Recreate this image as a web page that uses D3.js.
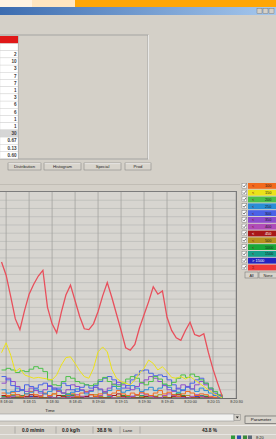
<!DOCTYPE html>
<html>
<head>
<meta charset="utf-8">
<script src="https://d3js.org/d3.v7.min.js"></script>
<style>
body { margin: 0; background: #d4d0c8; overflow: hidden; }
svg { display: block; font-family: "Liberation Sans", Arial, sans-serif; }
</style>
</head>
<body>
<div id="graph"></div>
<script>
let width = 276;
let height = 439;

// Plot frame (the left part of the window is cropped away)
let plot = { left: 0, right: 236, top: 192, bottom: 398 };

// Sample times, seconds after 8:18:00
let seconds = [
	-3, 0, 3, 6, 9, 12, 15,
	18, 21, 24, 27, 30, 33, 36,
	39, 42, 45, 48, 51, 54, 57,
	60, 63, 66, 69, 72, 75, 78,
	81, 84, 87, 90, 93, 96, 99,
	102, 105, 108, 111, 114, 117, 120,
	123, 126, 129, 132, 135, 138, 141
	];

// Counts per size class
let s100 = [
	0.6, 0.3, 0.7, 0.4, 0.2, 0.5, 0.8,
	0.4, 0.2, 0.6, 0.3, 0.5, 0.9, 0.6,
	0.3, 0.5, 0.2, 0.6, 0.8, 0.4, 0.2,
	0.5, 0.7, 0.4, 0.6, 0.9, 0.5, 0.3,
	0.6, 0.4, 0.7, 0.5, 0.3, 0.6, 0.9,
	0.5, 0.7, 0.4, 0.2, 0.5, 0.8, 0.6,
	0.3, 0.5, 0.4, 0.2, 0.1, 0, 0
	];
let s150 = [
	5.5, 6.7, 5.2, 3.2, 3.6, 2.8, 2.6,
	2.4, 2.5, 2.4, 2.3, 2.2, 2.8, 4.0,
	4.9, 5.0, 4.2, 3.3, 2.6, 2.4, 3.6,
	5.6, 6.2, 5.6, 3.5, 2.4, 2.0, 1.8,
	1.6, 2.2, 3.0, 3.6, 4.6, 4.2, 3.4,
	3.8, 3.2, 2.5, 2.4, 2.6, 2.3, 2.6,
	2.2, 1.8, 1.4, 1.0, 0.6, 0.3, 0
	];
let s200 = [
	3.4, 3.6, 3.4, 3.1, 3.3, 3.2, 3.5,
	3.8, 3.6, 3.2, 2.2, 1.6, 1.5, 2.0,
	2.6, 2.4, 2.0, 1.8, 1.6, 1.5, 1.7,
	2.2, 2.5, 2.0, 1.6, 1.4, 1.8, 2.3,
	2.6, 2.4, 1.9, 1.6, 2.0, 2.6, 2.3,
	1.7, 1.5, 1.9, 2.4, 2.8, 2.5, 2.9,
	2.6, 2.2, 1.8, 1.2, 0.8, 0.4, 0
	];
let s250 = [
	1.0, 0.6, 0.8, 1.2, 0.9, 0.5, 0.7,
	1.1, 0.8, 0.5, 0.8, 1.2, 1.0, 0.6,
	0.4, 0.7, 1.1, 0.9, 0.5, 0.8, 1.3,
	1.0, 0.6, 0.9, 1.4, 1.1, 0.7, 0.9,
	1.5, 1.2, 0.8, 1.0, 1.3, 0.9, 1.2,
	1.6, 1.3, 0.9, 0.7, 1.0, 1.4, 1.1,
	0.8, 1.2, 0.9, 0.6, 0.3, 0.1, 0
	];
let s300 = [
	2.6, 2.2, 1.5, 0.8, 1.0, 1.6, 1.4,
	1.2, 1.6, 1.8, 1.4, 1.0, 1.2, 1.8,
	1.5, 1.0, 0.8, 1.3, 1.6, 1.2, 1.5,
	2.0, 2.4, 2.6, 2.2, 1.6, 1.2, 1.5,
	2.2, 2.8, 3.3, 3.4, 3.0, 2.7, 2.8,
	2.6, 2.2, 1.6, 1.1, 0.9, 1.3, 1.8,
	2.2, 2.4, 1.8, 1.2, 0.6, 0.3, 0
	];
let s350 = [
	1.8, 2.4, 2.0, 1.4, 1.0, 0.8, 1.2,
	0.9, 0.6, 1.0, 1.5, 1.2, 0.8, 0.6,
	1.0, 1.6, 1.4, 1.0, 0.7, 0.9, 1.3,
	1.1, 0.8, 1.2, 1.7, 1.9, 1.6, 1.2,
	1.0, 1.4, 1.8, 2.2, 2.6, 2.4, 2.0,
	1.5, 1.0, 0.8, 1.2, 1.6, 1.4, 1.1,
	1.6, 2.0, 1.6, 1.0, 0.5, 0.2, 0
	];
let s400 = [
	0, 0, 0.2, 0.4, 0.2, 0, 0,
	0, 0.3, 0.5, 0.2, 0, 0, 0,
	0, 0.2, 0.4, 0.2, 0, 0, 0,
	0.3, 0.6, 0.3, 0, 0, 0, 0,
	0.2, 0.4, 0.6, 0.4, 0.2, 0, 0,
	0.3, 0.5, 0.3, 0, 0, 0, 0.2,
	0.4, 0.2, 0, 0, 0, 0, 0
	];
let s450 = [
	0.3, 0.1, 0, 0, 0, 0.2, 0.4,
	0.2, 0, 0, 0, 0, 0.3, 0.2,
	0, 0, 0, 0, 0.2, 0.4, 0.2,
	0, 0, 0, 0.3, 0.5, 0.2, 0,
	0, 0, 0, 0.2, 0.3, 0.1, 0,
	0, 0, 0.2, 0.4, 0.2, 0, 0,
	0, 0.2, 0.1, 0, 0, 0, 0
	];
let s500 = [
	0, 0.2, 0.4, 0.2, 0, 0, 0,
	0.2, 0, 0, 0.3, 0.5, 0.3, 0,
	0, 0, 0, 0.2, 0, 0, 0.4,
	0.2, 0, 0, 0, 0.2, 0, 0,
	0, 0.3, 0.2, 0, 0, 0.2, 0.4,
	0.2, 0, 0, 0, 0.2, 0.3, 0.1,
	0, 0, 0, 0, 0, 0, 0
	];
let s1000 = [
	0.2, 0, 0, 0, 0.3, 0.1, 0,
	0, 0, 0, 0.2, 0, 0, 0.3,
	0.5, 0.3, 0, 0, 0, 0, 0,
	0.2, 0, 0, 0, 0, 0.3, 0.2,
	0, 0, 0, 0, 0, 0.2, 0,
	0, 0, 0.4, 0.6, 0.3, 0, 0,
	0, 0, 0.2, 0, 0, 0, 0
	];
let s1500 = [
	0, 0, 0.3, 0, 0, 0, 0,
	0, 0.2, 0, 0, 0, 0, 0,
	0.2, 0.4, 0.2, 0, 0, 0, 0,
	0, 0, 0.2, 0, 0, 0, 0,
	0, 0, 0.3, 0.2, 0, 0, 0,
	0, 0, 0, 0.2, 0, 0, 0,
	0, 0.3, 0.2, 0, 0, 0, 0
	];
let sMax = [
	0, 0, 0, 0, 0, 0, 0.2,
	0, 0, 0, 0, 0, 0, 0,
	0, 0, 0, 0, 0.2, 0, 0,
	0, 0, 0, 0, 0, 0, 0,
	0.2, 0, 0, 0, 0, 0, 0,
	0, 0, 0, 0, 0, 0, 0,
	0.2, 0, 0, 0, 0, 0, 0
	];
let sTotal = [
	16.5, 14.9, 12.3, 9.6, 8.3, 10.6, 12.6,
	13.8, 14.8, 15.5, 11.0, 9.0, 7.9, 10.4,
	12.5, 13.7, 11.8, 9.9, 8.4, 8.3, 9.0,
	10.5, 12.4, 14.0, 12.2, 10.2, 8.2, 6.1,
	5.8, 6.5, 8.5, 10.1, 11.7, 13.5, 12.6,
	13.0, 9.8, 8.2, 7.3, 7.0, 8.2, 9.2,
	7.7, 7.5, 7.8, 5.5, 3.5, 1.8, 0.2
	];

let classNames = ["< 100", "< 150", "< 200", "< 250", "< 300", "< 350", "< 400",
	"< 450", "< 500", "< 1000", "< 1500", "> 1500", "\u03A3"];
let classColours = ["#f26a1e", "#ece21a", "#4cc04a", "#2a8ed6", "#4a62e6", "#8e4ccc", "#b04cb8",
	"#a81818", "#b8921e", "#1aa83a", "#16a08a", "#2424c0", "#ee3a3a"];
let classValues = [s100, s150, s200, s250, s300, s350, s400,
	s450, s500, s1000, s1500, sMax, sTotal];

let tableValues = ["", "2", "10", "3", "7", "7", "1", "3", "6", "6", "1", "1", "30", "0.67", "0.13", "0.60"];
let buttonNames = ["Distribution", "Histogram", "Special", "Prod"];
let statusTexts = ["0.0 m/min", "0.0 kg/h", "38.8 %", "Lane", "43.8 %"];

let svg;
let xScale;
let yScale;


svg = d3.select("#graph")
	.append("svg")
		.attr("width", width)
		.attr("height", height)
	;

let defs = svg.append("defs");
let grad = defs.append("linearGradient").attr("id", "titleGrad");
grad.append("stop").attr("offset", "0%").attr("stop-color", "#3c6cb0");
grad.append("stop").attr("offset", "100%").attr("stop-color", "#a6c8ee");
defs.append("clipPath").attr("id", "plotClip")
	.append("rect")
		.attr("x", plot.left).attr("y", plot.top)
		.attr("width", plot.right - plot.left).attr("height", plot.bottom - plot.top);
// the reference is a soft screenshot: blur the traces a touch
defs.append("filter").attr("id", "soft")
	.append("feGaussianBlur").attr("stdDeviation", 0.25);

drawChrome();
drawTable();
drawButtons();
createScales();
makeGraph();
drawLegend();
drawBottom();


function drawChrome() {
	// desktop strip at top
	svg.append("rect").attr("x", 0).attr("y", 0).attr("width", 32).attr("height", 7).attr("fill", "#fff3e2");
	svg.append("rect").attr("x", 32).attr("y", 0).attr("width", 43).attr("height", 7).attr("fill", "#ffe6c0");
	svg.append("rect").attr("x", 75).attr("y", 0).attr("width", 201).attr("height", 7).attr("fill", "#ffa606");
	// title bar
	svg.append("rect").attr("x", 0).attr("y", 7).attr("width", width).attr("height", 8).attr("fill", "url(#titleGrad)");
	[257, 263, 269].forEach(x => {
		svg.append("rect").attr("x", x).attr("y", 8.5).attr("width", 5).attr("height", 5)
			.attr("fill", "#d4d0c8").attr("stroke", "#6a6a6a").attr("stroke-width", 0.4);
		});
	}


function drawTable() {
	// sunken panel
	svg.append("rect").attr("x", -2).attr("y", 35).attr("width", 150).attr("height", 124)
		.attr("fill", "#d4d0c8").attr("stroke", "#9a9a9a").attr("stroke-width", 0.8);
	svg.append("line").attr("x1", 148.5).attr("x2", 148.5).attr("y1", 35).attr("y2", 159.5)
		.attr("stroke", "#f4f4f4").attr("stroke-width", 0.8);
	svg.append("rect").attr("x", 0).attr("y", 36).attr("width", 18).attr("height", 7.5).attr("fill", "#e01818");

	let rowH = 7.2;
	let rows = svg.append("g").attr("transform", "translate(0, 43.5)");
	rows.selectAll("rect")
		.data(tableValues)
		.enter()
		.append("rect")
			.attr("x", 0)
			.attr("y", (d, i) => i * rowH)
			.attr("width", 18)
			.attr("height", rowH)
			.attr("fill", (d, i) => i === 12 ? "#d6d6d6" : "#ffffff")
			.attr("stroke", "#cfcfcf")
			.attr("stroke-width", 0.4)
		;
	rows.selectAll("text")
		.data(tableValues)
		.enter()
		.append("text")
			.attr("x", 16.5)
			.attr("y", (d, i) => i * rowH + 5.2)
			.attr("text-anchor", "end")
			.attr("font-size", 4.6)
			.attr("font-weight", "bold")
			.attr("fill", "#3a3a3a")
			.text(d => d)
		;
	svg.append("line").attr("x1", 18.5).attr("x2", 18.5).attr("y1", 36).attr("y2", 159)
		.attr("stroke", "#a8a8a8").attr("stroke-width", 0.6);
	}


function drawButtons() {
	let bx = [8, 44, 84, 125];
	let bw = [33, 37, 37, 26];
	buttonNames.forEach((name, i) => {
		svg.append("rect").attr("x", bx[i]).attr("y", 163).attr("width", bw[i]).attr("height", 7)
			.attr("fill", "#d8d4cc").attr("stroke", "#7a7a7a").attr("stroke-width", 0.5);
		svg.append("line").attr("x1", bx[i] + 0.5).attr("x2", bx[i] + bw[i] - 0.5)
			.attr("y1", 163.6).attr("y2", 163.6).attr("stroke", "#ffffff").attr("stroke-width", 0.6);
		svg.append("text").attr("x", bx[i] + bw[i] / 2).attr("y", 168.3)
			.attr("text-anchor", "middle").attr("font-size", 4.2).attr("fill", "#222")
			.text(name);
		});
	// separator above the chart
	svg.append("line").attr("x1", 0).attr("x2", 240).attr("y1", 184.5).attr("y2", 184.5)
		.attr("stroke", "#b4b0a8").attr("stroke-width", 0.6);
	}


function toDate(sec) {
	return new Date(2000, 0, 1, 8, 18, 0 + sec);
	}


function createScales() {
	xScale = d3.scaleTime()
		.domain([toDate(-4), toDate(150)])
		.range([plot.left, plot.right])
		;
	yScale = d3.scaleLinear()
		.domain([0, 25])
		.range([plot.bottom, plot.top])
		;
	}


function makeGraph() {
	svg.append("rect")
		.attr("x", -2).attr("y", plot.top)
		.attr("width", plot.right + 2).attr("height", plot.bottom - plot.top)
		.attr("fill", "#d7d5d0")
		;

	// horizontal grid
	svg.append("g")
		.selectAll("line")
		.data(d3.range(1, 25))
		.enter()
		.append("line")
			.attr("x1", -2).attr("x2", plot.right)
			.attr("y1", d => yScale(d)).attr("y2", d => yScale(d))
			.attr("stroke", "#b9b9b6").attr("stroke-width", 0.7)
		;

	// vertical grid on the 15 s ticks
	let ticks = xScale.ticks(d3.timeSecond.every(15));
	svg.append("g")
		.selectAll("line")
		.data(ticks)
		.enter()
		.append("line")
			.attr("x1", d => xScale(d)).attr("x2", d => xScale(d))
			.attr("y1", plot.top).attr("y2", plot.bottom)
			.attr("stroke", "#a2a29e").attr("stroke-width", 0.8)
		;

	// lines, small classes first, total on top
	let lineStep = d3.line()
		.x((d, i) => xScale(toDate(seconds[i])))
		.y(d => yScale(d))
		.curve(d3.curveStepAfter)
		;
	let lineLin = d3.line()
		.x((d, i) => xScale(toDate(seconds[i])))
		.y(d => yScale(d))
		;
	let order = [11, 10, 9, 8, 7, 6, 0, 3, 5, 4, 2, 1, 12];
	let lines = svg.append("g")
		.attr("clip-path", "url(#plotClip)")
		.append("g")
			.attr("filter", "url(#soft)");
	order.forEach(k => {
		lines.append("path")
			.attr("d", (k === 12 || k === 1 ? lineLin : lineStep)(classValues[k]))
			.attr("fill", "none")
			.attr("stroke", k === 12 ? "#e8505c" : classColours[k])
			.attr("stroke-width", k === 12 ? 1.3 : 1)
			.attr("stroke-linejoin", "miter")
		;
		});

	// frame
	svg.append("line").attr("x1", -2).attr("x2", plot.right).attr("y1", plot.top - 0.5).attr("y2", plot.top - 0.5)
		.attr("stroke", "#7c7c7c").attr("stroke-width", 1);
	svg.append("line").attr("x1", plot.right + 0.5).attr("x2", plot.right + 0.5).attr("y1", plot.top - 1).attr("y2", plot.bottom + 1)
		.attr("stroke", "#7c7c7c").attr("stroke-width", 1);
	svg.append("line").attr("x1", -2).attr("x2", plot.right + 1).attr("y1", plot.bottom + 0.5).attr("y2", plot.bottom + 0.5)
		.attr("stroke", "#6e6e6e").attr("stroke-width", 1);

	// x axis
	let xAxis = d3.axisBottom(xScale)
		.ticks(d3.timeSecond.every(15))
		.tickFormat(d3.timeFormat("%-H:%M:%S"))
		.tickSize(0)
		.tickPadding(2.5)
		;
	let gx = svg.append("g")
		.attr("transform", `translate(0, ${plot.bottom})`)
		.call(xAxis)
		;
	gx.select(".domain").remove();
	gx.selectAll("text")
		.attr("font-size", 3.8)
		.attr("font-family", "Liberation Sans, Arial, sans-serif")
		.attr("fill", "#333")
		;

	svg.append("text")
		.attr("x", 50).attr("y", 412)
		.attr("text-anchor", "middle")
		.attr("font-size", 4.4)
		.attr("fill", "#222")
		.text("Time")
		;
	}


function drawLegend() {
	let y0 = 183;
	let step = 6.8;
	let g = svg.append("g");
	let rows = g.selectAll("g")
		.data(classNames)
		.enter()
		.append("g")
			.attr("transform", (d, i) => `translate(242, ${y0 + i * step})`)
		;
	rows.append("rect")
		.attr("x", 0).attr("y", 0.3).attr("width", 4.8).attr("height", 4.8)
		.attr("fill", "#ffffff").attr("stroke", "#6a6a6a").attr("stroke-width", 0.4);
	rows.append("path")
		.attr("d", "M1,2.7 L2.1,3.9 L4,1.3")
		.attr("fill", "none").attr("stroke", "#222").attr("stroke-width", 0.6);
	rows.append("rect")
		.attr("x", 6).attr("y", 0).attr("width", 30).attr("height", 5.8)
		.attr("fill", (d, i) => classColours[i]);
	rows.append("text")
		.attr("x", 10).attr("y", 4.4)
		.attr("font-size", 4)
		.attr("fill", (d, i) => (i === 11 || i === 7) ? "#ffffff" : "#7a1010")
		.text(d => d.startsWith("<") ? "<" : d)
		;
	rows.append("text")
		.attr("x", 23).attr("y", 4.4)
		.attr("font-size", 3.8)
		.attr("fill", (d, i) => (i === 11 || i === 7) ? "#ffffff" : "#1a1a1a")
		.text(d => d.startsWith("<") ? d.slice(2) : "")
		;

	// All / None buttons
	[[245, 13, "All"], [259, 18, "None"]].forEach(b => {
		svg.append("rect").attr("x", b[0]).attr("y", 272).attr("width", b[1]).attr("height", 6)
			.attr("fill", "#d8d4cc").attr("stroke", "#6e6e6e").attr("stroke-width", 0.5);
		svg.append("text").attr("x", b[0] + b[1] / 2).attr("y", 276.6)
			.attr("text-anchor", "middle").attr("font-size", 3.8).attr("fill", "#222")
			.text(b[2]);
		});
	}


function drawBottom() {
	// parameter input
	svg.append("rect").attr("x", -1).attr("y", 414).attr("width", 235).attr("height", 7)
		.attr("fill", "#f2f2f0").attr("stroke", "#8a8a8a").attr("stroke-width", 0.5);
	svg.append("rect").attr("x", 234).attr("y", 414.5).attr("width", 6.5).attr("height", 6)
		.attr("fill", "#d4d0c8").attr("stroke", "#7a7a7a").attr("stroke-width", 0.4);
	svg.append("path").attr("d", "M235.8,416.6 L238.8,416.6 L237.3,418.6 Z").attr("fill", "#222");
	svg.append("rect").attr("x", 245).attr("y", 416).attr("width", 32).attr("height", 7.5)
		.attr("fill", "#d8d4cc").attr("stroke", "#555").attr("stroke-width", 0.6);
	svg.append("text").attr("x", 261).attr("y", 421.4)
		.attr("text-anchor", "middle").attr("font-size", 4.4).attr("fill", "#111")
		.text("Parameter");

	// status bar
	svg.append("line").attr("x1", 0).attr("x2", width).attr("y1", 425.5).attr("y2", 425.5)
		.attr("stroke", "#ffffff").attr("stroke-width", 0.6);
	let sepX = [15, 56, 93, 120, 140];
	sepX.forEach(x => {
		svg.append("line").attr("x1", x).attr("x2", x).attr("y1", 426.5).attr("y2", 433.5)
			.attr("stroke", "#909090").attr("stroke-width", 0.6);
		});
	let textX = [22, 62, 97, 123, 202];
	statusTexts.forEach((t, i) => {
		svg.append("text").attr("x", textX[i]).attr("y", 431.8)
			.attr("font-size", i === 3 ? 4.2 : 4.8)
			.attr("font-weight", i === 3 ? "normal" : "bold")
			.attr("fill", "#1a1a1a")
			.text(t);
		});

	// task bar strip
	svg.append("rect").attr("x", 0).attr("y", 434.5).attr("width", width).attr("height", 5)
		.attr("fill", "#d4d0c8");
	svg.append("line").attr("x1", 0).attr("x2", width).attr("y1", 434.5).attr("y2", 434.5)
		.attr("stroke", "#f4f4f4").attr("stroke-width", 0.6);
	[[231, "#2e9a3a"], [237, "#2a4fb0"], [243, "#3b8c3b"], [248, "#5a6a7a"]].forEach(c => {
		svg.append("rect").attr("x", c[0]).attr("y", 435.5).attr("width", 4).attr("height", 3.5)
			.attr("fill", c[1]);
		});
	svg.append("text").attr("x", 256).attr("y", 439).attr("font-size", 4).attr("fill", "#222")
		.text("8:20");
	}
</script>
</body>
</html>
